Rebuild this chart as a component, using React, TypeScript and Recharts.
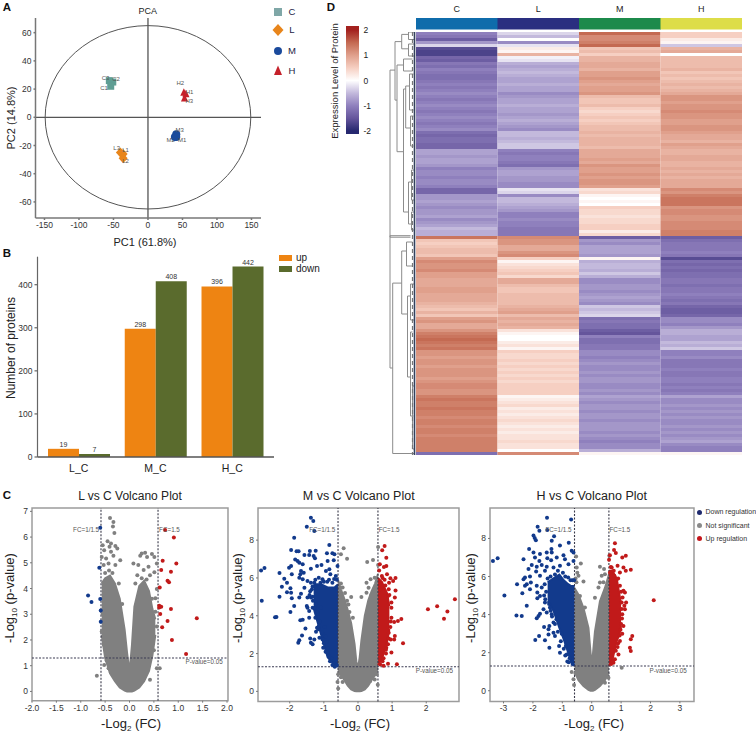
import React from "react";
import {
  Area, Bar, BarChart, Cell, ComposedChart, LabelList, ReferenceArea, ReferenceDot,
  ReferenceLine, Scatter, ScatterChart, XAxis, YAxis,
} from "recharts";

const FONT = "'Liberation Sans', Arial, sans-serif";

// ---- A: PCA
const pcaTicksX = [-150, -100, -50, 0, 50, 100, 150];
const pcaTicksY = [-60, -40, -20, 0, 20, 40, 60];
const pcaC = [{ x: -56, y: 26, name: "C3" }, { x: -51, y: 25, name: "C2" }, { x: -54, y: 22, name: "C1" }];
const pcaL = [{ x: -40, y: -25, name: "L3" }, { x: -36, y: -26, name: "L1" }, { x: -36, y: -29, name: "L2" }];
const pcaM = [{ x: 41, y: -12, name: "M3" }, { x: 39, y: -14, name: "M2" }, { x: 41, y: -14, name: "M1" }];
const pcaH = [{ x: 52, y: 17, name: "H2" }, { x: 55, y: 16, name: "H1" }, { x: 53, y: 13, name: "H3" }];
const labelOffsets: Record<string, [number, number]> = {
  C3: [-3.7, -2.3], C2: [3.2, -3], C1: [-6.7, 1.7],
  L3: [-3.7, -4.6], L1: [2.5, -4], L2: [2.5, 3.1],
  M3: [3.4, -3.9], M2: [-4.2, 3.3], M1: [6, 3.3],
  H2: [-3.6, -10.3], H1: [3.7, -2.7], H3: [4.7, 2.3],
};
const GROUP_COLORS = { C: "#5f9e94", L: "#e8851b", M: "#1a4a9c", H: "#c5202a" };

// ---- B: bars
const barCategories = ["L_C", "M_C", "H_C"];
const barUp = [19, 298, 396];
const barDown = [7, 408, 442];
const barData = barCategories.map((name, i) => ({ name, up: barUp[i], down: barDown[i] }));

// ---- C: volcano plots, [log2FC, -log10 p]
const lGrayBand = [[-0.57, 2.2, 4.2], [-0.5, 1.3, 4.4], [-0.4, 0.7, 4.5], [-0.3, 0.4, 4.2], [-0.2, 0.15, 3.6], [-0.1, 0.03, 2.4], [-0.05, 0, 1.5], [0, 0, 0.75], [0.05, 0, 1.8], [0.1, 0.03, 3.3], [0.2, 0.15, 4.1], [0.3, 0.4, 4.3], [0.4, 0.8, 3.9], [0.47, 1.4, 3.2], [0.53, 2.2, 2.8]];
const lGray = [[-0.4, 6.74], [-0.33, 6.59], [-0.34, 6.41], [-0.31, 6.16], [-0.45, 5.84], [-0.38, 5.75], [-0.55, 5.68], [-0.41, 5.62], [-0.29, 5.65], [-0.52, 5.49], [-0.38, 5.43], [-0.25, 5.56], [-0.48, 5.17], [-0.33, 5.27], [-0.57, 5.23], [-0.19, 5.1], [-0.43, 4.97], [-0.29, 4.91], [-0.53, 4.91], [0.08, 4.97], [0.25, 5.36], [0.32, 5.39], [0.22, 5.27], [0.36, 5.23], [0.46, 5.34], [0.51, 5.23], [0.18, 4.91], [0.39, 4.85], [0.56, 4.97], [0.29, 4.72], [0.51, 4.63], [0.16, 4.52], [0.42, 4.52], [0.56, 3.98], [0.53, 3.62], [0.56, 2.52], [0.53, 3.1], [0.62, 0.9], [0.56, 0.9], [-0.67, 0.61], [-0.52, 1.03], [-0.43, 0.9], [0.42, 0.45], [-0.57, 2.33], [-0.53, 1.81], [-0.5, 4.6], [-0.42, 4.7], [-0.35, 4.6], [-0.22, 4.2], [-0.15, 3.4], [0.12, 4.2], [0.25, 4.4], [0.35, 4.35], [0.46, 3.6], [0.44, 2.6], [0.5, 1.6], [-0.55, 3.0], [-0.47, 1.2], [-0.38, 0.75], [0.36, 0.8]];
const lBlue = [[-0.6, 6.36], [-0.62, 4.81], [-0.85, 3.73], [-0.78, 3.48], [-0.6, 3.59], [-0.59, 3.15], [-0.59, 2.71]];
const lRed = [[0.73, 6.27], [0.91, 5.98], [0.68, 5.08], [0.96, 4.97], [0.65, 4.72], [0.85, 4.65], [0.78, 4.3], [0.81, 4.24], [0.62, 4.04], [0.61, 3.33], [0.65, 3.29], [0.61, 3.26], [0.85, 3.2], [0.63, 3.01], [1.38, 2.84], [0.78, 2.74], [0.67, 2.49], [0.87, 2.0], [1.16, 1.45]];

const mGrayBand = [[-0.585, 1.1, 5.9], [-0.5, 0.85, 5.4], [-0.4, 0.6, 4.9], [-0.3, 0.3, 4.3], [-0.2, 0.1, 3.6], [-0.1, 0.02, 2.5], [-0.05, 0, 1.6], [0, 0, 1.2], [0.05, 0, 1.8], [0.1, 0.02, 2.7], [0.2, 0.1, 4.0], [0.3, 0.3, 4.8], [0.4, 0.6, 5.3], [0.5, 0.85, 5.7], [0.585, 1.1, 6.2]];
const mGray = [[-0.42, 7.57], [-0.5, 7.25], [-0.32, 7.02], [-0.5, 5.7], [-0.45, 5.5], [-0.38, 5.2], [-0.32, 4.8], [-0.28, 4.6], [-0.2, 4.99], [-0.25, 4.2], [-0.15, 3.9], [0.59, 7.64], [0.27, 6.84], [0.44, 6.95], [0.59, 6.68], [0.25, 5.75], [0.37, 5.93], [0.49, 6.01], [0.31, 5.48], [0.1, 4.99], [0.25, 5.22], [0.39, 5.1], [0.36, 0.55], [0.49, 0.63], [-0.58, 0.9], [-0.6, 0.5], [-0.58, 0.15], [0.55, 0.9], [0.58, 0.35], [-0.5, 0.75], [-0.45, 0.5]];
const mBlueBand = [[-1.3, 4.4, 5.66], [-1.08, 3.0, 5.66], [-0.89, 1.8, 5.5], [-0.69, 1.4, 5.5], [-0.585, 1.3, 5.66]];
const mBlue = [[-1.38, 9.19], [-1.31, 9.01], [-1.5, 8.71], [-1.28, 8.48], [-1.87, 8.13], [-1.96, 7.48], [-1.8, 7.41], [-1.74, 7.41], [-1.41, 7.43], [-1.24, 7.44], [-1.43, 7.21], [-1.3, 7.16], [-0.84, 7.74], [-0.91, 7.3], [-0.75, 7.3], [-0.69, 7.25], [-1.57, 7.21], [-1.26, 7.04], [-1.84, 6.98], [-1.77, 6.9], [-1.72, 6.81], [-2.84, 6.4], [-2.74, 6.53], [-2.3, 6.26], [-2.02, 6.54], [-1.96, 6.63], [-1.94, 6.19], [-2.16, 5.96], [-2.08, 5.75], [-2.23, 5.54], [-1.98, 5.45], [-1.96, 5.22], [-2.08, 5.24], [-2.3, 5.01], [-2.82, 4.8], [-1.94, 4.92], [-1.87, 4.51], [-1.98, 4.2], [-2.43, 3.92], [-2.39, 3.93], [-1.69, 3.76], [-1.62, 3.79], [-1.43, 3.9], [-1.54, 3.33], [-1.64, 2.95], [-1.72, 2.7], [-1.75, 2.57], [-1.4, 2.8], [-1.38, 2.57], [-1.33, 2.49], [-1.13, 2.84], [-1.04, 2.75], [-1.02, 2.31], [-1.28, 2.75], [-1.2, 3.37], [-1.23, 3.16], [-1.16, 3.28], [-1.62, 6.72], [-1.38, 6.49], [-1.2, 6.63], [-1.07, 6.68], [-0.94, 6.37], [-0.84, 6.46], [-0.89, 6.9], [-0.71, 6.93], [-0.6, 6.63], [-1.67, 6.37], [-1.69, 6.19], [-1.59, 6.28], [-1.72, 6.01], [-1.62, 5.93], [-1.48, 5.84], [-1.38, 5.75], [-1.57, 5.48], [-1.67, 5.17], [-1.72, 4.96], [-1.48, 4.96], [-1.38, 4.96], [-1.5, 4.51], [-1.43, 4.25], [-1.33, 4.43], [-1.23, 4.6], [-1.09, 4.43], [-1.48, 4.43], [-1.15, 6.01], [-1.28, 5.75], [-1.04, 5.93], [-0.81, 6.19], [-0.65, 6.1], [-1.35, 5.4], [-1.42, 5.1], [-1.32, 4.8], [-1.18, 4.1], [-1.12, 3.7], [-0.98, 3.4], [-0.95, 2.9], [-0.88, 2.3], [-0.78, 1.75], [-0.7, 1.5], [-0.62, 1.4], [-0.9, 5.8], [-0.75, 5.75], [-1.1, 5.75], [-0.82, 1.6], [-0.95, 2.1], [-1.25, 5.9], [-1.0, 5.8], [-0.85, 5.9], [-0.7, 5.95], [-0.62, 5.9], [-1.33, 5.55], [-1.4, 5.3], [-1.33, 5.0], [-1.27, 4.4], [-1.2, 4.2], [-1.25, 3.9], [-1.15, 3.45], [-1.05, 3.1], [-1.0, 2.55], [-0.92, 2.6], [-0.9, 2.05], [-0.85, 1.85], [-0.75, 1.4], [-0.68, 1.3]];
const mRedBand = [[0.585, 1.4, 6.0], [0.7, 1.7, 5.8], [0.85, 2.6, 5.2], [0.92, 3.3, 4.5]];
const mRed = [[0.78, 7.69], [0.71, 7.46], [0.83, 7.07], [0.83, 6.63], [0.76, 6.58], [0.64, 6.72], [0.62, 6.4], [0.85, 6.19], [0.95, 5.98], [1.1, 6.0], [1.03, 5.84], [0.91, 5.75], [1.1, 5.34], [1.08, 4.96], [0.98, 4.43], [0.88, 5.04], [2.84, 4.87], [2.05, 4.34], [2.32, 4.5], [2.62, 4.23], [2.52, 3.84], [1.27, 3.83], [1.17, 3.72], [1.06, 3.67], [1.08, 2.93], [1.06, 2.75], [1.32, 2.54], [0.98, 2.05], [0.88, 1.46], [1.14, 1.43], [0.75, 1.35], [0.88, 2.49], [0.83, 2.31], [0.96, 2.75], [0.95, 3.4], [0.98, 3.9], [0.92, 5.1], [0.78, 5.9], [0.7, 6.1], [0.66, 5.4], [0.9, 3.1], [0.82, 2.0], [0.72, 1.6], [0.65, 1.42], [0.98, 4.7], [0.96, 3.7], [0.9, 2.8], [0.82, 2.2], [0.75, 1.75], [0.8, 5.6], [0.72, 6.0], [0.9, 5.4]];

const hGrayBand = [[-0.585, 1.0, 5.4], [-0.45, 0.55, 5.05], [-0.28, 0.25, 4.35], [-0.11, 0.05, 3.3], [-0.04, 0, 2.0], [0, 0, 1.4], [0.04, 0, 1.9], [0.11, 0.05, 3.1], [0.28, 0.25, 4.7], [0.45, 0.55, 5.4], [0.585, 0.95, 6.1]];
const hGray = [[-0.53, 7.05], [-0.37, 6.68], [-0.51, 6.47], [-0.45, 6.04], [-0.28, 5.74], [-0.49, 6.2], [-0.4, 4.98], [-0.23, 4.37], [-0.68, 0.98], [-0.62, 0.6], [-0.55, 0.9], [0.28, 6.51], [0.42, 6.39], [0.6, 7.09], [0.34, 6.04], [0.45, 6.12], [0.23, 5.42], [0.11, 4.89], [0.28, 5.68], [1.02, 1.21], [0.57, 0.68], [0.45, 0.42], [-0.6, 0.3], [-0.52, 5.7], [-0.55, 5.9], [0.4, 5.7]];
const hBlueBand = [[-1.5, 4.7, 5.7], [-1.3, 4.2, 5.9], [-1.1, 3.3, 6.1], [-0.95, 2.7, 5.8], [-0.8, 2.0, 5.6], [-0.7, 1.5, 5.5], [-0.585, 1.3, 5.5]];
const hBlue = [[-1.52, 9.09], [-0.7, 9.0], [-1.84, 8.61], [-1.78, 8.4], [-1.51, 8.44], [-1.28, 8.11], [-1.98, 8.16], [-1.94, 8.02], [-1.9, 7.91], [-1.36, 7.88], [-0.78, 7.77], [-1.08, 7.63], [-2.13, 7.44], [-1.37, 7.44], [-0.68, 7.35], [-1.53, 7.26], [-1.98, 7.26], [-1.76, 7.18], [-1.36, 7.26], [-0.96, 7.12], [-0.62, 7.26], [-3.36, 6.81], [-3.2, 6.96], [-2.32, 6.91], [-1.93, 7.0], [-1.78, 6.82], [-1.51, 6.96], [-1.38, 6.86], [-1.19, 7.0], [-0.91, 6.91], [-2.04, 6.61], [-2.15, 6.39], [-1.87, 6.51], [-1.7, 6.61], [-1.53, 6.51], [-1.3, 6.47], [-1.08, 6.56], [-0.79, 6.65], [-0.62, 6.82], [-1.89, 6.26], [-1.76, 6.04], [-1.59, 6.3], [-2.27, 5.95], [-2.32, 5.86], [-2.1, 6.0], [-2.07, 5.68], [-2.21, 5.6], [-2.54, 5.6], [-2.27, 5.51], [-1.87, 5.51], [-1.7, 5.42], [-2.1, 5.33], [-2.36, 5.12], [-1.85, 5.16], [-1.76, 4.98], [-2.97, 5.0], [-1.85, 4.86], [-2.21, 4.47], [-1.59, 4.63], [-1.64, 4.28], [-1.42, 4.37], [-1.76, 4.05], [-1.81, 3.93], [-1.87, 3.81], [-2.56, 3.95], [-2.38, 3.93], [-1.53, 4.11], [-1.36, 4.02], [-1.3, 3.58], [-1.62, 3.35], [-1.44, 3.4], [-1.47, 3.23], [-1.79, 2.88], [-1.92, 2.67], [-1.59, 2.65], [-1.3, 3.05], [-1.25, 2.88], [-1.44, 2.26], [-1.11, 2.35], [-1.08, 2.0], [-0.85, 1.91], [-0.83, 1.53], [-1.47, 2.96], [-1.5, 5.9], [-1.25, 6.1], [-0.98, 6.2], [-0.8, 5.95], [-0.65, 5.8], [-1.55, 5.2], [-1.45, 4.55], [-1.2, 3.75], [-1.02, 3.0], [-0.88, 2.35], [-0.75, 1.7], [-0.65, 1.4], [-1.6, 5.6], [-1.62, 5.0], [-1.58, 4.8], [-1.4, 4.2], [-1.35, 3.9], [-1.25, 3.5], [-1.15, 3.1], [-1.05, 2.6], [-0.95, 2.2], [-0.9, 1.85], [-0.78, 1.5], [-1.4, 6.0], [-1.15, 6.3], [-0.9, 6.0], [-0.72, 5.8], [-0.6, 5.8]];
const hRedBand = [[0.585, 1.3, 6.3], [0.7, 1.6, 6.3], [0.85, 2.6, 5.9], [0.95, 3.0, 5.0], [1.0, 3.4, 4.6]];
const hRed = [[0.79, 7.75], [0.76, 7.4], [0.82, 7.23], [0.62, 7.12], [0.59, 6.88], [1.04, 7.0], [1.16, 7.09], [0.88, 6.56], [1.08, 6.47], [1.33, 6.35], [1.16, 6.3], [0.96, 6.21], [2.11, 4.75], [1.08, 5.25], [1.13, 5.16], [0.96, 5.51], [1.17, 4.63], [1.11, 4.46], [1.13, 4.28], [1.04, 4.02], [1.02, 4.63], [1.08, 3.4], [1.04, 3.0], [1.38, 2.88], [1.33, 2.7], [1.3, 2.26], [1.33, 2.09], [0.96, 2.61], [0.91, 1.91], [0.79, 1.65], [0.74, 1.47], [0.68, 6.47], [0.77, 6.04], [0.85, 5.86], [0.95, 2.9], [0.88, 2.3], [1.0, 3.5], [1.02, 4.3], [0.66, 1.4], [0.62, 6.2], [1.0, 5.2], [1.05, 4.9], [1.03, 3.8], [0.98, 3.2], [0.9, 2.5], [0.82, 2.1], [0.72, 1.55], [0.9, 5.9], [0.75, 6.3], [0.65, 6.5]];

const toPoints = (list: number[][]) => list.map(([x, y]) => ({ x, y }));
const toBand = (list: number[][]) => list.map(([x, lo, hi]) => ({ x, range: [lo, hi] }));

// ---- D: heatmap, one value per row
const heatC = [-1.0, -1.1, -1.4, -0.8, -0.3, -1.6, -1.7, -1.7, -1.3, -1.4,
  -1.1, -1.2, -1.0, -1.1, -1.2, -1.2, -1.1, -1.0, -1.1, -1.0, -0.9,
  -1.0, -1.1, -1.0, -0.9, -1.0, -1.1, -1.0, -0.9, -1.0, -1.1, -1.0, -0.9,
  -1.2, -1.3, -1.2, -1.2, -1.3, -1.3,
  -0.7, -0.7, -0.8, -0.7, -0.7, -0.8,
  -1.0, -0.9, -0.9, -1.0, -0.9, -0.9, -1.0,
  -1.3, -1.3,
  -0.8, -0.8, -0.7, -0.8,
  -0.9, -0.8, -0.8, -0.7, -0.9, -0.8, -0.7, -0.5, -0.6, -0.6,
  1.4,
  0.6, 0.5, 0.6, 0.7, 0.7, 0.6, 1.0,
  1.2, 1.1, 1.1, 1.2, 1.0, 1.0,
  0.9, 0.9, 0.9,
  1.0, 1.0, 0.9, 0.9, 0.9, 0.8,
  0.7, 0.6, 0.8, 0.6,
  1.0, 1.1, 0.9, 0.9,
  1.1, 1.3, 1.4, 1.5, 1.4, 1.3, 1.4,
  1.1, 1.1, 1.0, 1.1, 1.1, 1.0, 1.1, 1.1, 1.1, 1.0, 1.1, 1.2, 1.2, 1.1, 1.1,
  1.3, 1.4, 1.3, 1.3, 1.4, 1.3, 1.3, 1.2, 1.3, 1.3, 1.2, 1.3, 1.3, 1.2, 1.3, 1.3, 1.3, 1.3,
  1.3, -1.2];
const heatL = [-0.3, -0.5, 0.0, -0.9, -0.2, 0.2, 0.1, 0.8, -0.1, -0.2,
  -0.6, -0.7, -0.6, -0.5, -0.6, -0.7, -0.7, -0.6, -0.7, -0.7, -0.9,
  -0.8, -0.7, -0.7, -0.6, -0.7, -0.7, -0.8, -0.7, -0.6, -0.7, -0.8, -0.9,
  -0.5, -0.5, -0.6, -0.5, -0.4, -0.4,
  -1.0, -1.1, -1.0, -1.0, -1.1, -1.2,
  -0.8, -0.7, -0.7, -0.8, -0.8, -0.9, -0.9,
  -0.2, -0.3,
  -0.9, -0.5, -0.5, -0.6,
  -0.7, -0.8, -1.0, -1.0, -0.9, -1.0, -1.0, -1.1, -1.1, -1.1,
  1.2,
  1.1, 1.1, 0.9, 0.9, 1.1, 1.2, 0.5,
  0.1, 0.3, 0.4, 0.5, 0.6, 0.4,
  0.9, 0.9, 0.7,
  0.6, 0.6, 0.7, 0.7, 0.7, 0.7,
  0.8, 0.9, 1.0, 0.7,
  0.9, 0.8, 0.9, 0.8,
  0.3, 0.1, 0.0, 0.0, 0.2, 0.3, 0.1,
  0.5, 0.4, 0.4, 0.5, 0.4, 0.5, 0.4, 0.5, 0.4, 0.5, 0.4, 0.5, 0.5, 0.5, 0.5,
  0.1, 0.2, 0.3, 0.4, 0.2, 0.3, 0.2, 0.3, 0.4, 0.3, 0.2, 0.3, 0.2, 0.3, 0.3, 0.4, 0.3, 0.3,
  0.0, 1.2];
const heatM = [1.5, 1.2, 1.2, 1.3, 1.5, 0.6, 0.7, 0.5, 0.8, 0.8,
  0.9, 0.9, 0.8, 1.0, 1.0, 1.1, 1.0, 0.9, 1.0, 1.0, 1.1,
  0.7, 0.6, 0.6, 0.7, 0.5, 0.4, 0.5, 0.6, 0.5, 0.6, 0.7, 0.7,
  0.8, 0.7, 0.8, 0.8, 0.8, 0.7,
  0.9, 0.9, 0.9, 1.0, 0.9, 1.1,
  1.0, 1.0, 1.1, 1.0, 1.1, 1.1, 1.0,
  0.3, 0.4,
  0.1, 0.0, 0.1, 0.0,
  0.5, 0.4, 0.4, 0.3, 0.4, 0.4, 0.5, 0.5, 0.2, 0.4,
  -1.4,
  -0.8, -0.9, -0.7, -0.7, -0.7, -0.8, 0.1,
  -0.6, -0.5, -0.5, -0.6, -0.4, -0.6,
  -0.9, -0.9, -0.8,
  -0.8, -0.9, -0.8, -0.7, -0.8, -0.9,
  -0.4, -0.5, -0.4, -0.3,
  -1.2, -1.1, -1.2, -1.2,
  -1.4, -1.5, -1.0, -1.2, -1.2, -1.1, -1.1,
  -0.9, -0.9, -1.0, -0.9, -0.8, -0.9, -0.9, -0.8, -0.9, -0.8, -0.8, -0.9, -0.9, -0.8, -0.9,
  -0.7, -0.8, -0.9, -0.8, -0.8, -0.9, -0.8, -0.8, -0.9, -0.8, -0.8, -0.8, -0.9, -0.8, -0.9, -1.0, -0.9, -0.9,
  -0.6, 0.1];
const heatH = [0.5, 0.5, 0.2, 0.1, -0.4, 0.8, 0.9, 0.0, 0.7, 0.7,
  0.7, 0.7, 0.8, 0.6, 0.7, 0.6, 0.7, 0.8, 0.7, 0.8, 0.9,
  1.1, 1.1, 1.0, 1.1, 1.1, 1.2, 1.1, 1.1, 1.0, 1.0, 1.1, 1.1,
  1.0, 0.9, 0.9, 0.8, 1.0, 0.9,
  0.8, 0.8, 0.9, 0.9, 0.8, 0.8,
  0.9, 0.8, 0.9, 0.8, 0.9, 0.9, 0.9,
  1.2, 1.1,
  1.3, 1.4, 1.4, 1.4,
  1.1, 1.2, 1.2, 1.1, 1.1, 1.2, 1.2, 1.2, 1.3, 1.3,
  -1.4,
  -1.2, -1.1, -1.1, -1.1, -1.0, -1.1, -1.6,
  -1.2, -1.3, -1.2, -1.3, -1.2, -1.2,
  -1.1, -1.1, -1.2,
  -1.1, -1.1, -1.0, -1.1, -1.2, -1.1,
  -1.3, -1.4, -1.4, -1.3,
  -0.9, -0.9, -1.0, -0.8,
  -0.6, -0.6, -0.7, -0.7, -0.5, -0.6, -0.4,
  -1.0, -1.0, -0.9, -1.1, -1.1, -1.1, -1.0, -1.1, -1.1, -1.0, -1.0, -1.1, -1.0, -1.1, -1.0,
  -0.7, -0.9, -0.9, -0.8, -0.9, -0.8, -0.9, -0.8, -0.9, -0.9, -0.8, -0.9, -0.8, -0.9, -0.8, -0.7, -0.9, -1.0,
  -1.0, 0.1];
const heatRows = heatC.map((_, row) => ({ row, C: 1, L: 1, M: 1, H: 1 }));

const heatGroups = ["C", "L", "M", "H"];
const heatValues: Record<string, number[]> = { C: heatC, L: heatL, M: heatM, H: heatH };
const annotationColors = ["#0f6cab", "#2a2f80", "#1c8a4b", "#dddd48"];

const levelStops = [-2, -1.5, -1, -0.5, 0, 0.5, 1, 1.5, 2];
const levelColors = ["#26286f", "#65559c", "#8f80bd", "#c3b9dc", "#ffffff", "#f6cfc2", "#e0a08c", "#c46a52", "#a3211e"];

const hex = (c: string) => [1, 3, 5].map((i) => parseInt(c.slice(i, i + 2), 16));
function levelColor(v: number) {
  const clamped = Math.max(-2, Math.min(2, v));
  let i = 0;
  while (i < levelStops.length - 2 && clamped > levelStops[i + 1]) i++;
  const t = (clamped - levelStops[i]) / (levelStops[i + 1] - levelStops[i]);
  const a = hex(levelColors[i]);
  const b = hex(levelColors[i + 1]);
  return `rgb(${a.map((p, k) => Math.round(p + (b[k] - p) * t)).join(",")})`;
}

// dendrogram brackets: height, top row, bottom row, child height top, child height bottom
const dendroBrackets = [
  [25.5, 12.7, 112, 20.5, 22.8], [25.5, 67.9, 68.4, 5, 5],
  [20.5, 3.2, 22.7, 13.8, 18.5], [13.8, 0.8, 5.6, 7, 7], [7, 0, 2.5, 1, 1], [7, 4, 8, 1, 1],
  [18.5, 11, 39.9, 12, 12], [12, 9, 13, 3, 3], [12, 19, 60, 9.8, 7], [9.8, 18, 32, 6, 5],
  [6, 14, 26, 2, 2], [5, 28, 38, 2, 2], [7, 50, 64, 4, 4], [4, 46, 56, 1, 1], [4, 60, 66, 1, 1],
  [22.8, 83.7, 140.5, 13.8, 1], [13.8, 73, 94, 9, 8], [9, 70, 78, 3, 3], [8, 88, 115, 5, 5],
  [5, 84, 96, 1.5, 1.5], [5, 100, 128, 3, 2], [3, 118, 139, 1, 1],
];
const dendroRoot = [{ x: 25.5, y: 12.7 }];

// ---- helpers
const Place = ({ left, top, children }: any) => (
  <div style={{ position: "absolute", left, top }}>{children}</div>
);

const Txt = ({ x, y, size = 10, rotate = 0, weight = 400, color = "#222", children }: any) => (
  <div
    style={{
      position: "absolute", left: x, top: y, fontSize: size, fontWeight: weight, color,
      whiteSpace: "nowrap", lineHeight: 1,
      transform: `translate(-50%, -50%) rotate(${rotate}deg)`,
    }}
  >
    {children}
  </div>
);

const PanelLetter = ({ x, y, children }: any) => <Txt x={x} y={y} size={11.5} weight={700} color="#111">{children}</Txt>;

function pcaMarker(group: string) {
  return (props: any) => {
    const { cx, cy, payload } = props;
    const fill = (GROUP_COLORS as any)[group];
    const [dx, dy] = labelOffsets[payload.name];
    let mark = <circle cx={cx} cy={cy} r={4} fill={fill} />;
    if (group === "C") mark = <rect x={cx - 3.5} y={cy - 3.5} width={7} height={7} fill={fill} />;
    if (group === "L") mark = <path d={`M${cx} ${cy - 5}L${cx + 4.5} ${cy}L${cx} ${cy + 5}L${cx - 4.5} ${cy}Z`} fill={fill} />;
    if (group === "H") mark = <path d={`M${cx} ${cy - 5}L${cx + 3.6} ${cy + 2.5}L${cx - 3.6} ${cy + 2.5}Z`} fill={fill} />;
    return (
      <g>
        {mark}
        <text x={cx + dx} y={cy + dy} fontSize={6} fill="#555" textAnchor="middle" dominantBaseline="central">{payload.name}</text>
      </g>
    );
  };
}

function PcaPanel() {
  const series: [string, any[]][] = [["C", pcaC], ["L", pcaL], ["M", pcaM], ["H", pcaH]];
  return (
    <Place left={0} top={0}>
      <ScatterChart width={268} height={240} margin={{ top: 18, right: 7, bottom: 0, left: 0 }}>
        <XAxis dataKey="x" type="number" domain={[-163, 163.8]} ticks={pcaTicksX} height={22} interval={0}
          stroke="#777" strokeWidth={1.5} tickSize={2} tick={{ fontSize: 8.5, fill: "#333" }} />
        <YAxis dataKey="y" type="number" domain={[-71.4, 70.4]} ticks={pcaTicksY} width={35.5} interval={0}
          stroke="#777" strokeWidth={1.5} tickSize={2} tick={{ fontSize: 8.5, fill: "#333" }} />
        <ReferenceLine x={0} stroke="#555" strokeWidth={1.3} />
        <ReferenceLine y={0} stroke="#555" strokeWidth={1.3} />
        <ReferenceArea x1={-149} x2={149} y1={-65} y2={65}
          shape={(p: any) => (
            <ellipse cx={p.x + p.width / 2} cy={p.y + p.height / 2} rx={p.width / 2} ry={p.height / 2}
              fill="none" stroke="#555" strokeWidth={1} />
          )} />
        {series.map(([group, pts]) => (
          <Scatter key={group} data={pts} dataKey="y" shape={pcaMarker(group)} isAnimationActive={false} />
        ))}
      </ScatterChart>
    </Place>
  );
}

function BarPanel() {
  return (
    <Place left={0} top={250}>
      <BarChart width={276} height={232} data={barData} barCategoryGap="10%" barGap={0}
        margin={{ top: 6.7, right: 2, bottom: 0, left: 0 }}>
        <XAxis dataKey="name" height={25} interval={0} padding={{ left: 2.8, right: 3.4 }} tickLine={false}
          stroke="#555" strokeWidth={1.3} tick={{ fontSize: 10.5, fill: "#222" }} />
        <YAxis domain={[0, 465]} ticks={[0, 100, 200, 300, 400]} width={37.5} tickSize={3}
          stroke="#666" strokeWidth={1.2} tick={{ fontSize: 8.5, fill: "#333" }} />
        <Bar dataKey="up" fill="#ee8412" isAnimationActive={false}>
          <LabelList dataKey="up" position="top" fontSize={7} fill="#333" offset={2} />
        </Bar>
        <Bar dataKey="down" fill="#5a6b2d" isAnimationActive={false}>
          <LabelList dataKey="down" position="top" fontSize={7} fill="#333" offset={2} />
        </Bar>
      </BarChart>
    </Place>
  );
}

const dot = (color: string) => (p: any) => <circle cx={p.cx} cy={p.cy} r={2} fill={color} />;
const COL_GRAY = "#808080";
const COL_BLUE = "#123a8c";
const COL_RED = "#c11a1a";

function VolcanoPanel(props: any) {
  const { left, top, width, height, domainX, domainY, ticksX, ticksY, tickFormat, grayBand, gray, blueBand, blue, redBand, red, notes } = props;
  const axisW = 22;
  const pad = 8;
  return (
    <Place left={left - axisW} top={top - pad}>
      <ComposedChart width={width + axisW + pad} height={height + 18 + pad} margin={{ top: pad, right: pad, bottom: 0, left: 0 }}>
        <XAxis dataKey="x" type="number" domain={domainX} ticks={ticksX} height={18} interval={0} allowDataOverflow
          axisLine={false} tickSize={2} stroke="#777" tickFormatter={tickFormat} tick={{ fontSize: 8.5, fill: "#333" }} />
        <YAxis type="number" domain={domainY} ticks={ticksY} width={axisW} interval={0} allowDataOverflow
          axisLine={false} tickSize={2} stroke="#777" tick={{ fontSize: 8.5, fill: "#333" }} />
        <Area data={toBand(grayBand)} dataKey="range" stroke={COL_GRAY} strokeWidth={2} fill={COL_GRAY} fillOpacity={1} dot={false} activeDot={false} isAnimationActive={false} />
        {blueBand && <Area data={toBand(blueBand)} dataKey="range" stroke={COL_BLUE} strokeWidth={2} fill={COL_BLUE} fillOpacity={1} dot={false} activeDot={false} isAnimationActive={false} />}
        {redBand && <Area data={toBand(redBand)} dataKey="range" stroke={COL_RED} strokeWidth={2} fill={COL_RED} fillOpacity={1} dot={false} activeDot={false} isAnimationActive={false} />}
        <Scatter data={toPoints(gray)} dataKey="y" shape={dot(COL_GRAY)} isAnimationActive={false} />
        <Scatter data={toPoints(blue)} dataKey="y" shape={dot(COL_BLUE)} isAnimationActive={false} />
        <Scatter data={toPoints(red)} dataKey="y" shape={dot(COL_RED)} isAnimationActive={false} />
        <ReferenceLine x={-0.585} stroke="#3a3a4a" strokeWidth={1.1} strokeDasharray="2 1.5" />
        <ReferenceLine x={0.585} stroke="#3a3a4a" strokeWidth={1.1} strokeDasharray="2 1.5" />
        <ReferenceLine y={1.3} stroke="#3a3a52" strokeWidth={1.1} strokeDasharray="2 1.5" />
        <ReferenceArea x1={domainX[0]} x2={domainX[1]} y1={domainY[0]} y2={domainY[1]} fill="none" stroke="#9c9c9c" strokeWidth={1.5} />
        {notes.map(([text, x, y]: any) => (
          <ReferenceDot key={text} x={x} y={y} r={0} stroke="none"
            label={{ value: text, position: "center", fontSize: 6.3, fill: "#555" }} />
        ))}
      </ComposedChart>
    </Place>
  );
}

function HeatmapPanel() {
  return (
    <>
      <Place left={415.5} top={4}>
        <BarChart width={326} height={25.5} data={heatGroups.map((name) => ({ name, band: 1 }))}
          barCategoryGap={0} margin={{ top: 0, right: 0, bottom: 0, left: 0 }}>
          <XAxis dataKey="name" orientation="top" height={14} axisLine={false} tickLine={false} interval={0}
            tickMargin={0} tick={{ fontSize: 9, fill: "#222" }} />
          <YAxis hide domain={[0, 1]} />
          <Bar dataKey="band" isAnimationActive={false}>
            {annotationColors.map((c) => <Cell key={c} fill={c} />)}
          </Bar>
        </BarChart>
      </Place>
      <Place left={415.5} top={32}>
        <BarChart layout="vertical" width={326} height={423} data={heatRows} barCategoryGap={0}
          margin={{ top: 0, right: 0, bottom: 0, left: 0 }}>
          <XAxis type="number" hide domain={[0, 4]} />
          <YAxis type="category" dataKey="row" hide />
          {heatGroups.map((g) => (
            <Bar key={g} dataKey={g} stackId="heat" isAnimationActive={false}>
              {heatValues[g].map((v, i) => <Cell key={i} fill={levelColor(v)} />)}
            </Bar>
          ))}
        </BarChart>
      </Place>
      <Place left={388} top={32}>
        <ScatterChart width={27.5} height={423} margin={{ top: 0, right: 0, bottom: 0, left: 0 }}>
          <XAxis type="number" dataKey="x" hide reversed domain={[0, 27.5]} />
          <YAxis type="number" dataKey="y" hide reversed domain={[0, 141]} />
          <Scatter data={dendroRoot} dataKey="y" shape={() => <g />} isAnimationActive={false} />
          {dendroBrackets.flatMap(([h, r1, r2, h1, h2], i) => [
            <ReferenceLine key={`v${i}`} ifOverflow="visible" segment={[{ x: h, y: r1 }, { x: h, y: r2 }]} stroke="#8c8c8c" strokeWidth={1} />,
            <ReferenceLine key={`a${i}`} ifOverflow="visible" segment={[{ x: h, y: r1 }, { x: h1, y: r1 }]} stroke="#8c8c8c" strokeWidth={1} />,
            <ReferenceLine key={`b${i}`} ifOverflow="visible" segment={[{ x: h, y: r2 }, { x: h2, y: r2 }]} stroke="#8c8c8c" strokeWidth={1} />,
          ])}
          <ReferenceLine ifOverflow="visible" segment={[{ x: 3, y: 0 }, { x: 3, y: 141 }]} stroke="#777" strokeWidth={1.2} strokeDasharray="4 3" />
          <ReferenceLine ifOverflow="visible" segment={[{ x: 1, y: 0 }, { x: 1, y: 141 }]} stroke="#33405c" strokeWidth={1.6} />
        </ScatterChart>
      </Place>
      <Place left={345.5} top={20}>
        <BarChart width={37.5} height={120} data={[{ name: "level", range: [-2.12, 2.16] }]} barCategoryGap={0}
          margin={{ top: 6, right: 0, bottom: 6, left: 0 }}>
          <defs>
            <linearGradient id="levelGradient" x1="0" y1="0" x2="0" y2="1">
              {levelStops.map((v, i) => (
                <stop key={v} offset={(2.16 - v) / 4.28} stopColor={levelColors[i]} />
              )).reverse()}
            </linearGradient>
          </defs>
          <XAxis dataKey="name" hide />
          <YAxis orientation="right" domain={[-2.12, 2.16]} ticks={[-2, -1, 0, 1, 2]} width={25} interval={0}
            axisLine={false} tickLine={false} tickMargin={0} tick={{ fontSize: 8.5, fill: "#222", dx: -1 }} />
          <Bar dataKey="range" fill="url(#levelGradient)" isAnimationActive={false} />
        </BarChart>
      </Place>
    </>
  );
}

const Log10Label = ({ x, y }: any) => (
  <Txt x={x} y={y} size={13} rotate={-90}>-Log<sub style={{ fontSize: 8 }}>10</sub> (p-value)</Txt>
);
const Log2Label = ({ x, y }: any) => (
  <Txt x={x} y={y} size={13}>-Log<sub style={{ fontSize: 8 }}>2</sub> (FC)</Txt>
);

function PcaLegend() {
  const rows: [string, number][] = [["C", 12], ["L", 30], ["M", 51], ["H", 71]];
  return (
    <>
      {rows.map(([g, y]) => {
        const fill = (GROUP_COLORS as any)[g];
        return (
          <React.Fragment key={g}>
            <svg width={14} height={14} style={{ position: "absolute", left: 271, top: y - 7 }}>
              {g === "C" && <rect x={3} y={3} width={8} height={8} fill="#7fa7a7" />}
              {g === "L" && <path d="M7 1L12.5 7L7 13L1.5 7Z" fill={fill} />}
              {g === "M" && <circle cx={7} cy={7} r={4} fill={fill} />}
              {g === "H" && <path d="M7 1.5L11 11H3Z" fill={fill} />}
            </svg>
            <Txt x={292} y={y} size={9.5} color="#224">{g}</Txt>
          </React.Fragment>
        );
      })}
    </>
  );
}

function BarLegend() {
  const rows: [string, string, number][] = [["up", "#ee8412", 257.5], ["down", "#5a6b2d", 268.7]];
  return (
    <>
      {rows.map(([name, color, y]) => (
        <React.Fragment key={name}>
          <div style={{ position: "absolute", left: 279, top: y - 3, width: 13, height: 6, background: color }} />
          <div style={{ position: "absolute", left: 296, top: y - 6, fontSize: 10, lineHeight: "12px", color: "#222" }}>{name}</div>
        </React.Fragment>
      ))}
    </>
  );
}

function VolcanoLegend() {
  const rows: [string, string, number][] = [["Down regulation", "#1f2a6e", 512.3], ["Not significant", "#8a8a8a", 525.7], ["Up regulation", "#c4161c", 538.7]];
  return (
    <>
      {rows.map(([name, color, y]) => (
        <React.Fragment key={name}>
          <div style={{ position: "absolute", left: 696.5, top: y - 2.5, width: 5, height: 5, borderRadius: "50%", background: color }} />
          <div style={{ position: "absolute", left: 705.5, top: y - 5, fontSize: 7, lineHeight: "10px", color: "#333", whiteSpace: "nowrap" }}>{name}</div>
        </React.Fragment>
      ))}
    </>
  );
}

export default function App() {
  return (
    <div style={{ position: "absolute", left: 0, top: 0, width: 756, height: 736, overflow: "hidden", background: "#fff", fontFamily: FONT }}>
      <PcaPanel />
      <PcaLegend />
      <BarPanel />
      <BarLegend />
      <VolcanoPanel left={31.7} top={508.3} width={196} height={192.7}
        domainX={[-2, 2.02]} domainY={[-0.36, 7.13]}
        ticksX={[-2, -1.5, -1, -0.5, 0, 0.5, 1, 1.5, 2]} ticksY={[0, 1, 2, 3, 4, 5, 6, 7]}
        tickFormat={(v: number) => v.toFixed(1)}
        grayBand={lGrayBand} gray={lGray} blue={lBlue} red={lRed}
        notes={[["FC=1/1.5", -0.89, 6.29], ["FC=1.5", 0.82, 6.29], ["P-value=0.05", 1.53, 1.15]]} />
      <VolcanoPanel left={258.3} top={508.3} width={201} height={193.4}
        domainX={[-2.93, 2.96]} domainY={[-0.53, 9.7]}
        ticksX={[-2, -1, 0, 1, 2]} ticksY={[0, 2, 4, 6, 8]}
        grayBand={mGrayBand} gray={mGray} blueBand={mBlueBand} blue={mBlue} redBand={mRedBand} red={mRed}
        notes={[["FC=1/1.5", -1.05, 8.54], ["FC=1.5", 0.91, 8.55], ["P-value=0.05", 2.24, 1.08]]} />
      <VolcanoPanel left={490} top={508.3} width={204} height={193.4}
        domainX={[-3.46, 3.48]} domainY={[-0.56, 9.6]}
        ticksX={[-3, -2, -1, 0, 1, 2, 3]} ticksY={[0, 2, 4, 6, 8]}
        grayBand={hGrayBand} gray={hGray} blueBand={hBlueBand} blue={hBlue} redBand={hRedBand} red={hRed}
        notes={[["FC=1/1.5", -1.13, 8.46], ["FC=1.5", 0.96, 8.46], ["P-value=0.05", 2.6, 1.07]]} />
      <VolcanoLegend />
      <HeatmapPanel />

      <PanelLetter x={7} y={8}>A</PanelLetter>
      <PanelLetter x={7} y={254}>B</PanelLetter>
      <PanelLetter x={7} y={496}>C</PanelLetter>
      <PanelLetter x={331} y={8}>D</PanelLetter>

      <Txt x={147.7} y={10.5} size={9}>PCA</Txt>
      <Txt x={11} y={118} size={11} rotate={-90}>PC2 (14.8%)</Txt>
      <Txt x={145} y={241.5} size={11}>PC1 (61.8%)</Txt>
      <Txt x={10.5} y={348} size={12} rotate={-90}>Number of proteins</Txt>
      <Txt x={335} y={81} size={9.5} rotate={-90}>Expression Level of Protein</Txt>

      <Txt x={130} y={496} size={12}>L vs C Volcano Plot</Txt>
      <Txt x={358.7} y={496} size={12.5}>M vs C Volcano Plot</Txt>
      <Txt x={591.7} y={496} size={12.5}>H vs C Volcano Plot</Txt>
      <Log10Label x={10.5} y={598} />
      <Log10Label x={238.7} y={598} />
      <Log10Label x={471.7} y={598} />
      <Log2Label x={131} y={725} />
      <Log2Label x={360} y={725} />
      <Log2Label x={594} y={725} />
    </div>
  );
}
